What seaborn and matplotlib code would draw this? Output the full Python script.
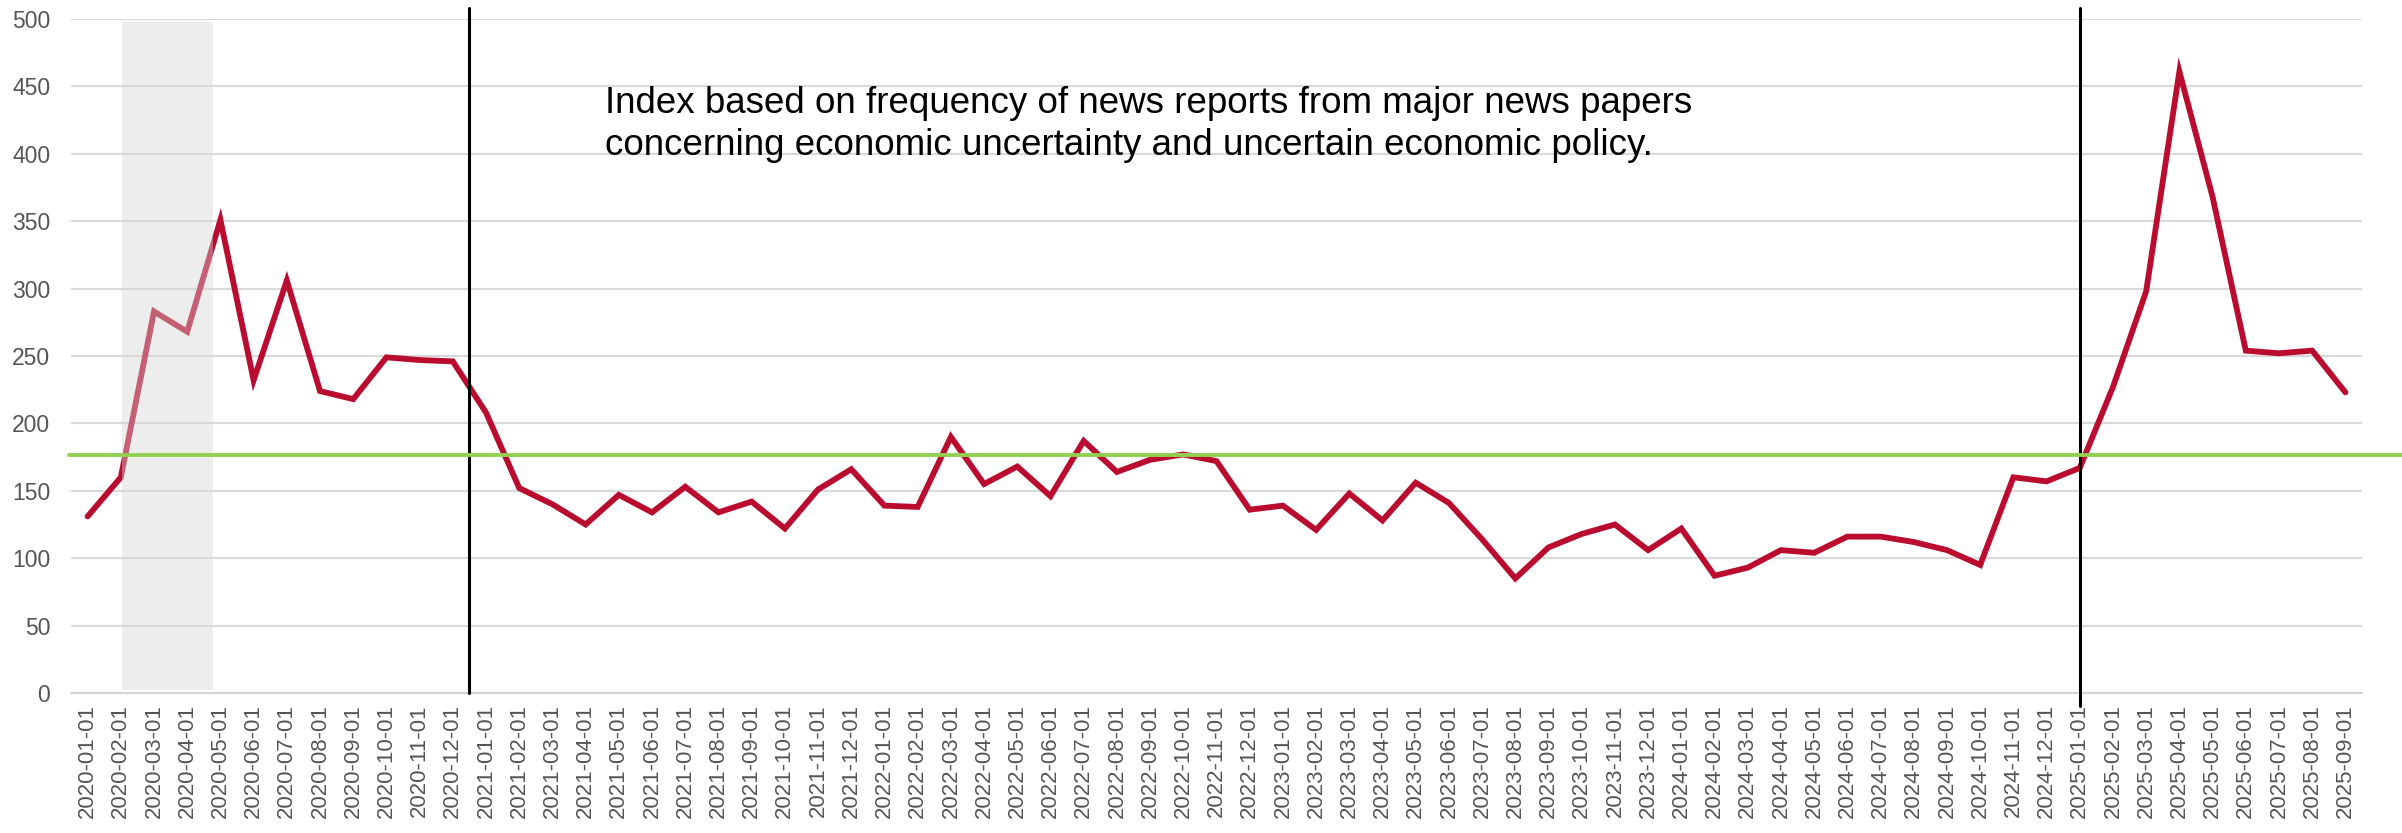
import numpy as np
import pandas as pd
import matplotlib
matplotlib.use("Agg")
import matplotlib.pyplot as plt
import seaborn as sns

# ---------------- data ----------------
months = pd.date_range("2020-01-01", "2025-09-01", freq="MS").strftime("%Y-%m-%d").tolist()
uncertainty_index = [
    131, 160, 283, 268, 351, 232, 306, 224, 218, 249, 247, 246, 208,
    152, 140, 125, 147, 134, 153, 134, 142, 122, 151, 166, 139, 138,
    190, 155, 168, 146, 187, 164, 173, 177, 172, 136, 139, 121, 148, 128,
    156, 141, 114, 85, 108, 118, 125, 106, 122, 87, 93, 106, 104,
    116, 116, 112, 106, 95, 160, 157, 167,
    227, 298, 461, 368, 254, 252, 254, 223,
]
average_level = 176.5
y_ticks = list(range(0, 501, 50))
annotation = ("Index based on frequency of news reports from major news papers\n"
              "concerning economic uncertainty and uncertain economic policy.")

df = pd.DataFrame({"pos": np.arange(len(months)), "month": months, "value": uncertainty_index})

# ---------------- style ----------------
sns.set_theme(style="white")
plt.rcParams["font.family"] = ["Liberation Sans", "DejaVu Sans"]

W, H = 2402, 833
fig = plt.figure(figsize=(W / 100, H / 100), dpi=100)
ax = fig.add_axes([71 / W, 1 - 693 / H, (2362 - 71) / W, (693 - 19) / H])

sns.lineplot(data=df, x="pos", y="value", ax=ax, color="#BA0C2F", linewidth=4.2,
             zorder=3, solid_joinstyle="miter")

n = len(months)
ax.set_xlim(-0.5, n - 0.5)
ax.set_ylim(0, 500)
ax.set_yticks(y_ticks)
ax.grid(axis="y", color="#d9d9d9", linewidth=1.5)
ax.grid(axis="x", visible=False)
ax.set_axisbelow(True)

for s in ["top", "right", "left"]:
    ax.spines[s].set_visible(False)
ax.spines["bottom"].set_color("#d4d4d4")
ax.spines["bottom"].set_linewidth(1.5)

ax.set_xticks(df["pos"], months)
ax.set_xticks(np.arange(-0.5, n, 1.0), minor=True)
ax.tick_params(axis="x", which="major", length=0, pad=8, labelsize=16,
               labelcolor="#555555", rotation=90)
ax.tick_params(axis="x", which="minor", length=7, width=1.4, color="#d4d4d4", direction="out")
ax.tick_params(axis="y", length=0, pad=15, labelsize=16.5, labelcolor="#555555")
ax.set_xlabel("")
ax.set_ylabel("")

# shaded period (drawn over the line, semi-transparent)
ax.axvspan(1.05, 3.77, ymin=0.005, ymax=0.996, color=(214 / 255, 214 / 255, 214 / 255),
           alpha=0.42, linewidth=0, zorder=3.5)

# vertical markers
ax.axvline(11.5, ymin=0.0, ymax=1.016, color="black", linewidth=2.2, clip_on=False, zorder=4)
ax.axvline(60, ymin=-0.02, ymax=1.016, color="black", linewidth=2.2, clip_on=False, zorder=4)

# average line
ax.axhline(average_level, xmin=-0.001, xmax=1.02, color="#92D050", linewidth=2.8,
           clip_on=False, zorder=5)

fig.text(605 / W, 1 - 86 / H, annotation, fontsize=26.5, color="black",
         ha="left", va="top", linespacing=1.27)

fig.savefig("out.png", dpi=100, facecolor="white")
